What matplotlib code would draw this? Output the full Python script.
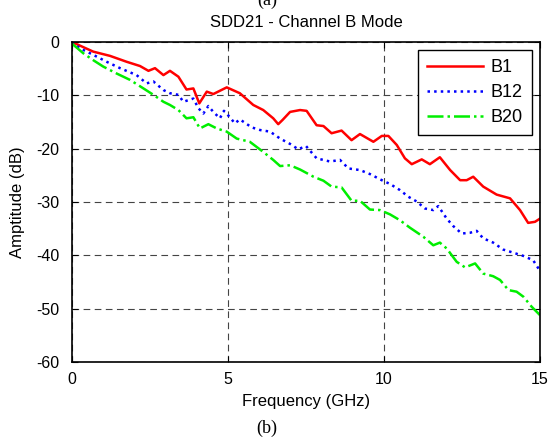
import matplotlib
matplotlib.use("Agg")
import matplotlib.pyplot as plt

plt.rcParams['font.family'] = ['Liberation Sans', 'DejaVu Sans']
plt.rcParams['axes.unicode_minus'] = False

# Werte (Frequenz in GHz, Amplitude in dB)
b1_f = [0, 0.68, 1.22, 1.75, 2.18, 2.45, 2.66, 2.93, 3.14, 3.41, 3.67, 3.89, 4.08,
        4.32, 4.53, 4.96, 5.38, 5.81, 6.13, 6.45, 6.61, 6.75, 6.99, 7.31, 7.52,
        7.84, 8.06, 8.32, 8.64, 8.96, 9.23, 9.66, 9.93, 10.14, 10.41, 10.67, 10.89,
        11.21, 11.47, 11.79, 12.12, 12.44, 12.65, 12.86, 13.18, 13.61, 14.04, 14.36,
        14.62, 14.84, 15.0]
b1_db = [0, -1.8, -2.6, -3.7, -4.5, -5.4, -4.9, -6.2, -5.4, -6.5, -8.9, -8.7, -11.5,
         -9.3, -9.75, -8.5, -9.6, -11.8, -12.75, -14.3, -15.4, -14.6, -13.1, -12.75, -12.9,
         -15.6, -15.75, -17.1, -16.6, -18.4, -17.25, -18.7, -17.6, -17.6, -19.3, -21.8, -22.9,
         -22.0, -22.9, -21.6, -24.0, -25.9, -25.9, -25.25, -27.1, -28.6, -29.3, -31.5,
         -33.9, -33.7, -33.1]

b12_f = [0, 0.26, 0.68, 1.11, 1.54, 2.07, 2.39, 2.61, 2.93, 3.14, 3.41, 3.57, 3.89,
         4.05, 4.21, 4.37, 4.53, 4.74, 4.87, 5.06, 5.22, 5.38, 5.76, 6.03, 6.35, 6.67,
         6.99, 7.25, 7.5, 7.84, 8.27, 8.59, 8.86, 9.23, 9.55, 9.93, 10.19, 10.51, 10.78,
         11.05, 11.31, 11.58, 11.74, 12.01, 12.22, 12.49, 12.76, 12.97, 13.18, 13.5,
         13.82, 14.15, 14.47, 14.78, 15.0]
b12_db = [0, -1.2, -2.4, -3.7, -4.9, -6.2, -7.75, -7.4, -9.0, -9.6, -9.9, -11.2, -10.6,
          -12.4, -13.4, -12.0, -13.1, -14.3, -12.9, -14.1, -15.25, -14.5, -16.0, -16.5, -16.8, -18.1,
          -19.1, -20.1, -19.5, -21.8, -22.4, -22.1, -23.7, -24.0, -24.75, -25.9, -26.6, -27.75, -29.0,
          -29.9, -31.2, -31.5, -30.75, -33.1, -34.5, -35.9, -35.75, -35.4, -36.8, -37.6,
          -38.9, -39.5, -40.1, -40.9, -42.9]

b20_f = [0, 0.36, 0.68, 1.0, 1.43, 1.86, 2.29, 2.61, 2.93, 3.14, 3.41, 3.67, 3.89, 4.1,
         4.37, 4.64, 4.96, 5.28, 5.7, 6.13, 6.45, 6.67, 6.99, 7.31, 7.74, 8.06, 8.32, 8.64,
         8.96, 9.23, 9.55, 9.87, 10.19, 10.51, 10.83, 11.26, 11.58, 11.79, 12.01, 12.33,
         12.6, 12.92, 13.18, 13.5, 13.72, 13.99, 14.25, 14.47, 14.73, 15.0]
b20_db = [-0.3, -2.1, -3.4, -4.6, -5.9, -7.1, -8.7, -9.9, -11.2, -11.8, -12.75, -14.3, -14.1, -16.2,
          -15.4, -16.2, -16.8, -18.1, -18.7, -20.6, -22.1, -23.25, -23.1, -23.9, -25.25, -26.0, -27.1, -27.25,
          -29.75, -29.75, -31.4, -31.5, -32.3, -33.4, -34.8, -36.5, -38.1, -37.6, -38.7, -41.2,
          -42.25, -41.5, -43.4, -43.9, -44.6, -46.5, -46.8, -47.75, -49.6, -51.2]

fig = plt.figure(figsize=(5.59, 4.40), dpi=100)
ax = fig.add_axes([0.1288, 0.177, 0.8372, 0.7275])

ax.plot(b1_f, b1_db, color='#ff0000', lw=1.8, ls='-', label='B1')
ax.plot(b12_f, b12_db, color='#0000ff', lw=1.8, ls=':', label='B12')
ax.plot(b20_f, b20_db, color='#00ee00', lw=1.8, ls='-.', label='B20')

ax.set_xlim(0, 15)
ax.set_ylim(-60, 0)
ax.set_xticks([0, 5, 10, 15])
ax.set_yticks([-60, -50, -40, -30, -20, -10, 0])
ax.grid(True, color='#444444', ls=(0, (6, 4)), lw=0.8)
ax.tick_params(direction='in', top=True, right=True, labelsize=11.5, length=4)
ax.tick_params(axis='x', pad=7)
ax.tick_params(axis='y', pad=9)
for sp in ax.spines.values():
    sp.set_linewidth(1.2)

ax.set_xlabel('Frequency (GHz)', fontsize=12, labelpad=5)
ax.set_ylabel('Amptitude (dB)', fontsize=12, labelpad=8)
ax.set_title('SDD21 - Channel B Mode', fontsize=12, pad=11)

leg = ax.legend(loc='upper right', fontsize=13, fancybox=False, framealpha=1,
                edgecolor='black', borderaxespad=0.45, handlelength=3.1,
                handletextpad=0.45, labelspacing=0.45, borderpad=0.5)
leg.get_frame().set_linewidth(1.0)

fig.text(0.478, 1.0, '(a)', family='Liberation Serif', fontsize=13, ha='center', va='center')
fig.text(0.478, 0.027, '(b)', family='Liberation Serif', fontsize=13, ha='center', va='center')

fig.savefig('out.png', dpi=100)
